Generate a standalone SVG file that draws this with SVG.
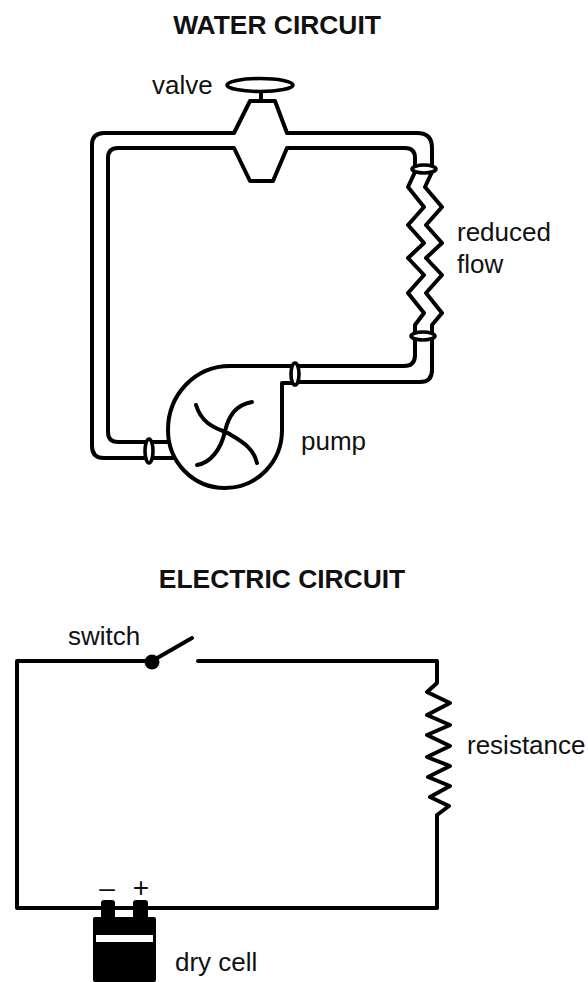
<svg xmlns="http://www.w3.org/2000/svg" width="588" height="982" viewBox="0 0 588 982">
<style>
.t{font-family:"Liberation Sans",Arial,sans-serif;font-size:26px;fill:#111}
.h{font-family:"Liberation Sans",Arial,sans-serif;font-size:26.4px;font-weight:700;fill:#111;text-anchor:middle}
.s{font-family:"Liberation Sans",Arial,sans-serif;font-size:28px;fill:#111;text-anchor:middle}
.p{fill:none;stroke:#000;stroke-width:4;stroke-linejoin:round;stroke-linecap:round}
.c{fill:#fff;stroke:#000;stroke-width:3.6}
</style>
<rect width="588" height="982" fill="#fff"/>
<text class="h" x="277" y="34">WATER CIRCUIT</text>
<text class="h" x="282" y="588">ELECTRIC CIRCUIT</text>
<g id="connectors">
<path class="p" d="M173,458H104Q92,458 92,446V145Q92,133 104,133H234L250,101H275L287,133H417Q432,133 432,148V172L425,187L442,207L426,225L442,243L426,258L442,275L426,293L442,313L432,325V370Q432,382 420,382H295"/>
<path class="p" d="M168,442H118Q108,442 108,432V158Q108,148 118,148H234L250,181H273L287,148H405Q415,148 415,158V172L408,187L424,207L408,225L424,243L408,258L424,275L408,293L424,313L415,325V355Q415,366 404,366H295"/>
<path class="p" d="M261,92V101"/>
<path class="p" d="M17,661H152M198,661H437V683L427,692L450,703L427,715L450,725L427,735L450,746L427,757L450,766L428,777L450,786L430,797L449,806L437,815V908H17V661"/>
<path class="p" d="M152,661L192,638"/>
</g>
<g id="valve"><ellipse class="c" cx="260" cy="85" rx="33" ry="6.5"/><text class="t" x="152" y="94">valve</text></g>
<g id="pump">
<path class="p" d="M295,366H232C195,365 168,395 168,430C168,462 193,488 225,488C257,488 282,462 282,430V383H295"/>
<path class="p" d="M196,405C203,428 222,429 231,435C245,443 254,450 257,463"/>
<path class="p" d="M252,402C236,405 229,415 225,431C221,450 210,463 197,465"/>
<text class="t" x="301" y="450">pump</text>
</g>
<g id="couplings">
<ellipse class="c" cx="424" cy="169" rx="12" ry="4"/>
<ellipse class="c" cx="423" cy="336" rx="12" ry="4"/>
<ellipse class="c" cx="295" cy="374" rx="4" ry="11"/>
<ellipse class="c" cx="149" cy="451" rx="4" ry="12"/>
</g>
<g id="reduced-flow"><text class="t" x="457" y="241">reduced</text><text class="t" x="457" y="273">flow</text></g>
<g id="switch"><circle cx="152" cy="662" r="7.5" fill="#000"/><text class="t" x="68" y="645">switch</text></g>
<g id="resistance"><text class="t" x="467" y="754">resistance</text></g>
<g id="dry-cell">
<rect x="101" y="900" width="14" height="20" rx="3" fill="#000"/>
<rect x="133" y="900" width="15" height="20" rx="3" fill="#000"/>
<rect x="93" y="917" width="63" height="65" rx="2" fill="#000"/>
<rect x="96" y="935" width="57" height="7" fill="#fff"/>
<text class="s" x="107" y="897">–</text>
<text class="s" x="141" y="897">+</text>
<text class="t" x="175" y="971">dry cell</text>
</g>
</svg>
